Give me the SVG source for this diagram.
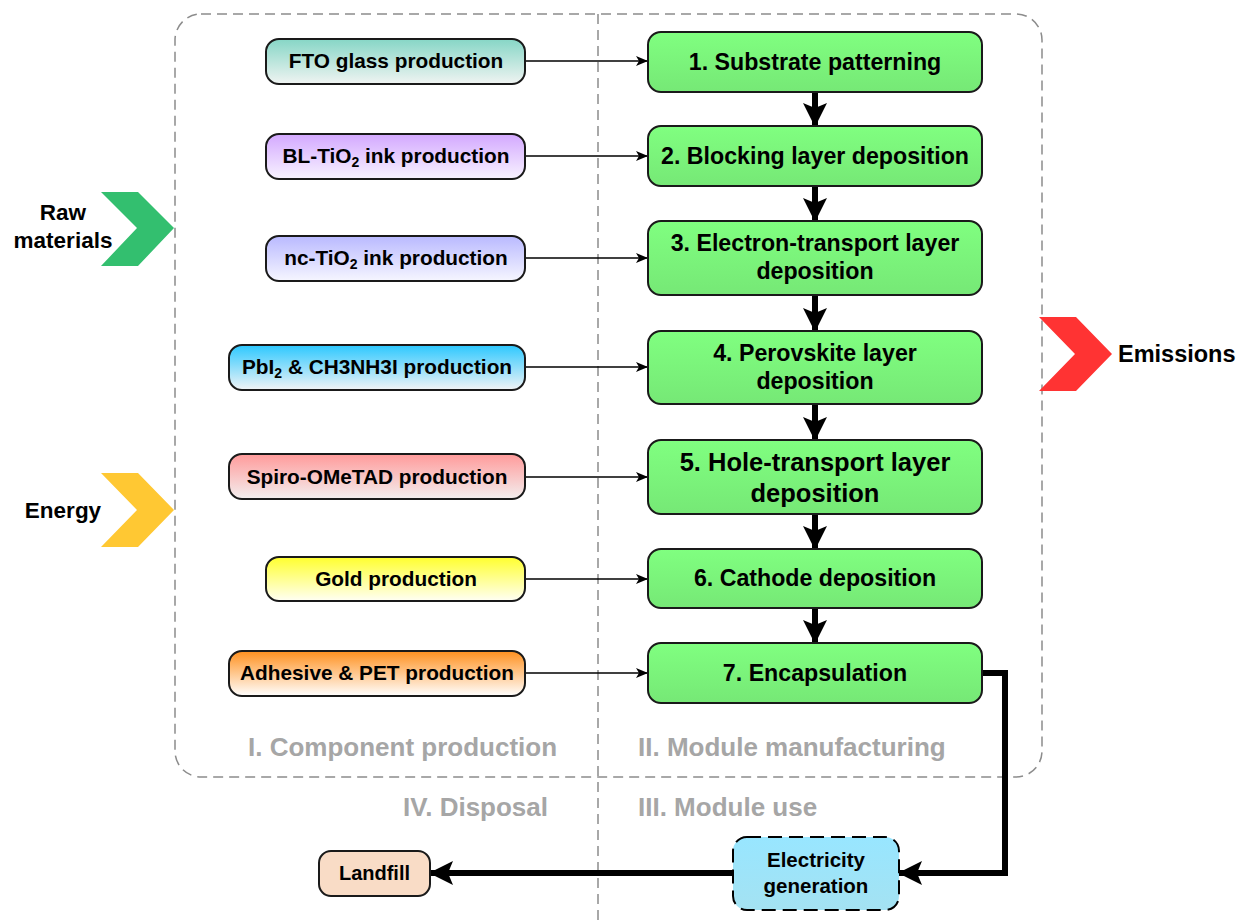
<svg xmlns="http://www.w3.org/2000/svg" width="1239" height="920" viewBox="0 0 1239 920">
<style>
text{font-family:"Liberation Sans",Arial,sans-serif;font-weight:bold;fill:#000}
.comp{stroke:#1a1a1a;stroke-width:2}
.step{stroke:#1a1a1a;stroke-width:2;fill:url(#gGreen)}
.ct{font-size:20.8px;text-anchor:middle}
.st{font-size:23.2px;text-anchor:middle}
.phase{font-size:26px;fill:#a6a6a6}
.side{font-size:22.5px;text-anchor:middle}
.thin{stroke:#000;stroke-width:1.6;fill:none}
.thick{stroke:#000;stroke-width:6;fill:none}
</style>
<defs>
<linearGradient id="gGreen" x1="0" y1="0" x2="0" y2="1"><stop offset="0" stop-color="#80ff80"/><stop offset="1" stop-color="#76e876"/></linearGradient>
<linearGradient id="gFTO" x1="0" y1="0" x2="0" y2="1"><stop offset="0" stop-color="#86d6c6"/><stop offset="1" stop-color="#f0f4f2"/></linearGradient>
<linearGradient id="gBL" x1="0" y1="0" x2="0" y2="1"><stop offset="0" stop-color="#d3a8ff"/><stop offset="1" stop-color="#f8f3ff"/></linearGradient>
<linearGradient id="gNC" x1="0" y1="0" x2="0" y2="1"><stop offset="0" stop-color="#b9b9ff"/><stop offset="1" stop-color="#f6f6ff"/></linearGradient>
<linearGradient id="gPb" x1="0" y1="0" x2="0" y2="1"><stop offset="0" stop-color="#2cc8ff"/><stop offset="1" stop-color="#f2f4f6"/></linearGradient>
<linearGradient id="gSp" x1="0" y1="0" x2="0" y2="1"><stop offset="0" stop-color="#ff9a9a"/><stop offset="1" stop-color="#f3efef"/></linearGradient>
<linearGradient id="gAu" x1="0" y1="0" x2="0" y2="1"><stop offset="0" stop-color="#ffff2e"/><stop offset="1" stop-color="#fffff4"/></linearGradient>
<linearGradient id="gAd" x1="0" y1="0" x2="0" y2="1"><stop offset="0" stop-color="#ff901e"/><stop offset="1" stop-color="#ffffff"/></linearGradient>
<linearGradient id="gEl" x1="0" y1="0" x2="0" y2="1"><stop offset="0" stop-color="#98e6ff"/><stop offset="1" stop-color="#a4e2f2"/></linearGradient>
<marker id="mThin" viewBox="0 0 12 10" refX="12" refY="5" markerWidth="12" markerHeight="10" markerUnits="userSpaceOnUse" orient="auto"><path d="M0,0 L12,5 L0,10 L3,5 z" fill="#000"/></marker>
<marker id="mThick" viewBox="0 0 24 24" refX="23" refY="12" markerWidth="24" markerHeight="24" markerUnits="userSpaceOnUse" orient="auto"><path d="M0,0 L24,12 L0,24 L5,12 z" fill="#000"/></marker>
</defs>

<!-- phase frames -->
<g id="frames">
<rect x="175" y="14" width="867" height="763" rx="26" fill="none" stroke="#8c8c8c" stroke-width="1.5" stroke-dasharray="10 6"/>
<line x1="598" y1="14" x2="598" y2="920" stroke="#8c8c8c" stroke-width="1.5" stroke-dasharray="10 6"/>
<text class="phase" x="248" y="756">I. Component production</text>
<text class="phase" x="638" y="756">II. Module manufacturing</text>
<text class="phase" x="638" y="816">III. Module use</text>
<text class="phase" x="403" y="816">IV. Disposal</text>
</g>

<!-- side flows -->
<g id="raw-materials">
<polygon points="101,192 138,192 174,228 138,266 101,266 137,228" fill="#33bf6f"/>
<text class="side" x="63" y="220">Raw</text>
<text class="side" x="63" y="248">materials</text>
</g>
<g id="energy">
<polygon points="101,473 138,473 174,510 138,547 101,547 137,510" fill="#ffc833"/>
<text class="side" x="63" y="518">Energy</text>
</g>
<g id="emissions">
<polygon points="1039,317 1076,317 1112,354 1076,391 1039,391 1075,354" fill="#ff3333"/>
<text x="1118" y="362" style="font-size:23.5px">Emissions</text>
</g>

<!-- connectors -->
<g id="connectors">
<line class="thin" x1="525" y1="61" x2="648" y2="61" marker-end="url(#mThin)"/>
<line class="thin" x1="525" y1="156" x2="648" y2="156" marker-end="url(#mThin)"/>
<line class="thin" x1="525" y1="258" x2="648" y2="258" marker-end="url(#mThin)"/>
<line class="thin" x1="525" y1="367" x2="648" y2="367" marker-end="url(#mThin)"/>
<line class="thin" x1="525" y1="477" x2="648" y2="477" marker-end="url(#mThin)"/>
<line class="thin" x1="525" y1="579" x2="648" y2="579" marker-end="url(#mThin)"/>
<line class="thin" x1="525" y1="673" x2="648" y2="673" marker-end="url(#mThin)"/>
<line class="thick" x1="815" y1="90" x2="815" y2="126" marker-end="url(#mThick)"/>
<line class="thick" x1="815" y1="184" x2="815" y2="221" marker-end="url(#mThick)"/>
<line class="thick" x1="815" y1="293" x2="815" y2="331" marker-end="url(#mThick)"/>
<line class="thick" x1="815" y1="402" x2="815" y2="440" marker-end="url(#mThick)"/>
<line class="thick" x1="815" y1="512" x2="815" y2="549" marker-end="url(#mThick)"/>
<line class="thick" x1="815" y1="606" x2="815" y2="643" marker-end="url(#mThick)"/>
<path class="thick" d="M982,673 H1005 V873 H899" stroke-linejoin="miter" marker-end="url(#mThick)"/>
<path class="thick" d="M733,873 H430" marker-end="url(#mThick)"/>
</g>

<!-- component production nodes -->
<g id="fto"><rect class="comp" x="266" y="39" width="259" height="45" rx="13" fill="url(#gFTO)"/><text class="ct" x="396" y="68">FTO glass production</text></g>
<g id="bl-tio2"><rect class="comp" x="266" y="134" width="259" height="45" rx="13" fill="url(#gBL)"/><text class="ct" x="396" y="163">BL-TiO<tspan font-size="14" dy="4">2</tspan><tspan dy="-4"> ink production</tspan></text></g>
<g id="nc-tio2"><rect class="comp" x="266" y="236" width="259" height="45" rx="13" fill="url(#gNC)"/><text class="ct" x="396" y="265">nc-TiO<tspan font-size="14" dy="4">2</tspan><tspan dy="-4"> ink production</tspan></text></g>
<g id="pbi2"><rect class="comp" x="229" y="345" width="296" height="45" rx="13" fill="url(#gPb)"/><text class="ct" x="377" y="374">PbI<tspan font-size="14" dy="4">2</tspan><tspan dy="-4"> &amp; CH3NH3I production</tspan></text></g>
<g id="spiro"><rect class="comp" x="229" y="454" width="296" height="45" rx="13" fill="url(#gSp)"/><text class="ct" x="377" y="484">Spiro-OMeTAD production</text></g>
<g id="gold"><rect class="comp" x="266" y="557" width="259" height="44" rx="13" fill="url(#gAu)"/><text class="ct" x="396" y="586">Gold production</text></g>
<g id="adhesive"><rect class="comp" x="229" y="651" width="296" height="45" rx="13" fill="url(#gAd)"/><text class="ct" x="377" y="680">Adhesive &amp; PET production</text></g>

<!-- module manufacturing nodes -->
<g id="step1"><rect class="step" x="648" y="32" width="334" height="60" rx="13"/><text class="st" x="815" y="70">1. Substrate patterning</text></g>
<g id="step2"><rect class="step" x="648" y="126" width="334" height="60" rx="13"/><text class="st" x="815" y="164">2. Blocking layer deposition</text></g>
<g id="step3"><rect class="step" x="648" y="221" width="334" height="74" rx="13"/><text class="st" x="815" y="251">3. Electron-transport layer</text><text class="st" x="815" y="279">deposition</text></g>
<g id="step4"><rect class="step" x="648" y="331" width="334" height="73" rx="13"/><text class="st" x="815" y="361">4. Perovskite layer</text><text class="st" x="815" y="389">deposition</text></g>
<g id="step5"><rect class="step" x="648" y="440" width="334" height="74" rx="13"/><text class="st" x="815" y="471" style="font-size:25.5px">5. Hole-transport layer</text><text class="st" x="815" y="502" style="font-size:25.5px">deposition</text></g>
<g id="step6"><rect class="step" x="648" y="549" width="334" height="59" rx="13"/><text class="st" x="815" y="586">6. Cathode deposition</text></g>
<g id="step7"><rect class="step" x="648" y="643" width="334" height="60" rx="13"/><text class="st" x="815" y="681">7. Encapsulation</text></g>

<!-- use and disposal -->
<g id="electricity"><rect x="733" y="837" width="166" height="73" rx="14" fill="url(#gEl)" stroke="#000" stroke-width="2" stroke-dasharray="14 7"/><text class="ct" x="816" y="867" style="font-size:20.5px">Electricity</text><text class="ct" x="816" y="893" style="font-size:20.5px">generation</text></g>
<g id="landfill"><rect x="319" y="851" width="111" height="45" rx="12" fill="#f9dcc6" stroke="#1a1a1a" stroke-width="2"/><text class="ct" x="374.5" y="880" style="font-size:20px">Landfill</text></g>
</svg>
